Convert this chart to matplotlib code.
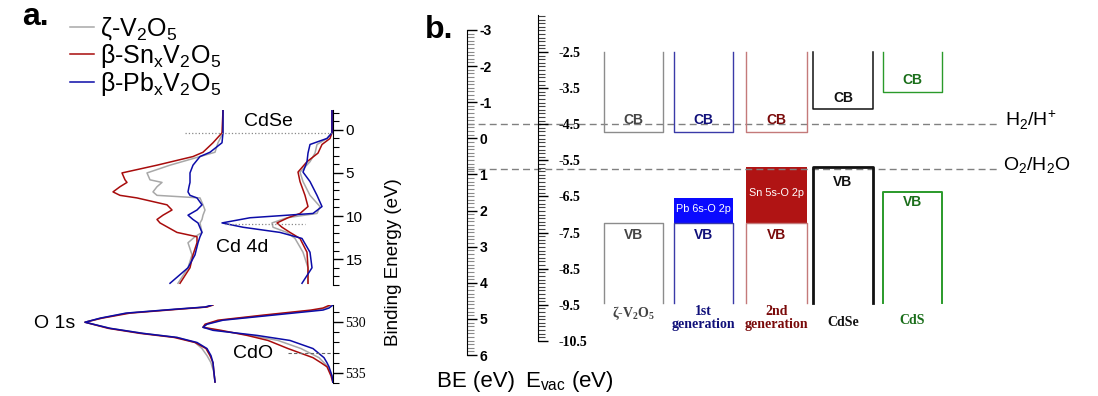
import matplotlib.pyplot as plt
import numpy as np
from matplotlib.ticker import MultipleLocator, FixedLocator

plt.rcParams['font.family'] = ['Liberation Sans', 'DejaVu Sans']
plt.rcParams['mathtext.fontset'] = 'custom'
plt.rcParams['mathtext.rm'] = 'Liberation Sans'
plt.rcParams['axes.unicode_minus'] = False

# %% data
names = ['ζ-V$_\\mathregular{2}$O$_\\mathregular{5}$',
         'β-Sn$_\\mathregular{x}$V$_\\mathregular{2}$O$_\\mathregular{5}$',
         'β-Pb$_\\mathregular{x}$V$_\\mathregular{2}$O$_\\mathregular{5}$']
colors = ['#a8a8a8', '#a80c0c', '#0c0ca8']

# valence band region, left stack (oxide) - binding energy (eV) / intensity (a.u.)
vb_e = [-2.3, 0.35, 1.5, 2.6, 3.1, 4.1, 5.0, 5.8, 6.1, 6.6, 7.2, 7.6, 7.9, 8.7,
        9.3, 9.9, 10.4, 10.8, 11.9, 12.4, 13.1, 14.5, 16.0, 17.8]
vb_grey = [2, 2, 7, 10, 25, 55, 78, 75, 63, 68, 72, 68, 25, 22, 20, 22, 23, 25,
           23, 30, 37, 33, 37, 47]
vb_red = [2, 3, 12, 22, 32, 68, 103, 100, 98, 105, 112, 105, 88, 58, 53, 62, 68,
          65, 48, 28, 28, 32, 35, 45]
vb_blue = [2, 2, 3, 15, 25, 32, 35, 35, 35, 36, 37, 35, 28, 23, 28, 37, 32, 27,
           23, 25, 27, 30, 37, 55]

# valence band region, right stack (CdSe)
cdse_e = [-2.3, 0.35, 1.0, 1.7, 2.7, 3.7, 4.9, 6.0, 7.6, 8.9, 9.7, 10.2, 10.8,
          11.3, 11.9, 12.6, 14.2, 16.0, 17.8]
cdse_grey = [1, 1, 6, 16, 18, 23, 33, 30, 23, 13, 16, 46, 61, 60, 46, 38, 30, 25, 25]
cdse_red = [1, 1, 3, 11, 15, 26, 35, 33, 28, 25, 33, 45, 56, 51, 43, 33, 26, 25, 25]
cdse_blue = [1, 1, 6, 23, 25, 26, 30, 23, 16, 11, 20, 83, 111, 90, 53, 31, 23, 21, 31]

# O 1s region
o1s_e = [528.3, 528.5, 528.7, 529.1, 529.6, 530.0, 530.6, 531.1, 531.5, 532.0,
         532.6, 533.3, 534.0, 535.0, 535.9]
o1s_grey = [3, 10, 38, 89, 115, 131, 106, 73, 39, 21, 14, 9, 5, 2, 1]
o1s_red = [3, 9, 35, 86, 114, 131, 108, 76, 42, 21, 10, 6, 3, 2, 1]
o1s_blue = [4, 11, 39, 90, 116, 131, 106, 73, 39, 19, 9, 5, 3, 2, 1]

cdo_e = [528.3, 528.6, 528.8, 529.3, 529.8, 530.2, 530.5, 530.8, 531.3, 531.8,
         532.6, 533.5, 534.0, 534.4, 535.3, 536.0]
cdo_grey = [2, 7, 16, 65, 112, 127, 130, 116, 82, 55, 32, 14, 9, 5, 1, 0]
cdo_red = [3, 10, 22, 70, 115, 128, 130, 112, 86, 65, 45, 20, 12, 6, 2, 0]
cdo_blue = [0, 4, 10, 60, 110, 126, 130, 120, 76, 43, 20, 9, 6, 4, 1, 0]

vbm_line = 0.35
cd4d_line = 10.9
cdo_line = 533.0

# band alignment (eV vs vacuum)
materials = ['ζ-V$_\\mathregular{2}$O$_\\mathregular{5}$', '1st\ngeneration',
             '2nd\ngeneration', 'CdSe', 'CdS']
cb_min = [-4.72, -4.72, -4.72, -4.08, -3.61]
vb_max = [-7.24, -7.24, -7.24, -5.69, -6.38]
midgap_top = [None, -6.54, -5.69, None, None]
midgap_text = [None, 'Pb 6s-O 2p', 'Sn 5s-O 2p', None, None]
h2_level = -4.5
o2_level = -5.73

# %% figure
W, H = 1098, 396
fig = plt.figure(figsize=(W / 100, H / 100), dpi=100)


def rect(x0, y0, x1, y1):
    # pixel box -> [left, bottom, width, height] in figure fraction
    return [x0 / W, 1 - y1 / H, (x1 - x0) / W, (y1 - y0) / H]


def ftext(x, y, s, **kw):
    kw.setdefault('ha', 'center')
    kw.setdefault('va', 'center')
    return fig.text(x / W, 1 - y / H, s, **kw)


def scale_axis(ax, major, minor, size, lab_font, minor_color='k', minor_len=4):
    for s in ['top', 'bottom', 'left']:
        ax.spines[s].set_visible(False)
    ax.patch.set_visible(False)
    ax.set_xticks([])
    ax.yaxis.set_ticks_position('right')
    ax.yaxis.set_label_position('right')
    ax.yaxis.set_major_locator(MultipleLocator(major))
    ax.yaxis.set_minor_locator(MultipleLocator(minor))
    ax.tick_params(axis='y', which='major', direction='out', length=7, width=1,
                   labelsize=size, pad=2, right=True, labelright=True)
    ax.tick_params(axis='y', which='minor', direction='out', length=minor_len,
                   width=0.8, color=minor_color, right=True)
    for t in ax.get_yticklabels():
        t.set_fontfamily(lab_font)


# ---- panel a, valence band
base_left, base_right = 225, 333
ax_vb = fig.add_axes(rect(0, 110, 333, 285))
ax_vb.set_xlim(0, 333)
ax_vb.set_ylim(18.0, -2.3)
scale_axis(ax_vb, 5, 1, 11, 'Liberation Sans')
lines = []
for I, c in zip([vb_grey, vb_red, vb_blue], colors):
    l, = ax_vb.plot(base_left - np.array(I), vb_e, color=c, lw=1.1)
    lines.append(l)
for I, c in zip([cdse_grey, cdse_red, cdse_blue], colors):
    ax_vb.plot(base_right - np.array(I), cdse_e, color=c, lw=1.1)
ax_vb.plot([185, 333], [vbm_line, vbm_line], ls=':', color='#888888', lw=0.9)
ax_vb.plot([225, 305], [cd4d_line, cd4d_line], ls=':', color='#888888', lw=0.9)

# ---- panel a, O 1s
base_o1s = 216
ax_o = fig.add_axes(rect(0, 305, 333, 383))
ax_o.set_xlim(0, 333)
ax_o.set_ylim(536.0, 528.3)
scale_axis(ax_o, 5, 1, 10, 'Liberation Serif')
for I, c in zip([o1s_grey, o1s_red, o1s_blue], colors):
    ax_o.plot(base_o1s - np.array(I), o1s_e, color=c, lw=1.1)
for I, c in zip([cdo_grey, cdo_red, cdo_blue], colors):
    ax_o.plot(base_right - np.array(I), cdo_e, color=c, lw=1.1)
ax_o.plot([288, 333], [cdo_line, cdo_line], ls=(0, (3, 2)), color='#666666', lw=0.8)

fig.legend(lines, names, loc='upper left', bbox_to_anchor=(60 / W, 1 - 5 / H),
           frameon=False, fontsize=18, handlelength=0.95, handletextpad=0.25,
           labelspacing=0.0, borderaxespad=0)
ftext(22, 17, 'a.', fontsize=23, fontweight='bold', ha='left')
ftext(268, 122, 'CdSe', fontsize=14)
ftext(242, 248, 'Cd 4d', fontsize=14)
ftext(55, 323, 'O 1s', fontsize=14)
ftext(253, 353, 'CdO', fontsize=14)
ftext(393, 262, 'Binding Energy (eV)', fontsize=13.5, rotation=90)

# ---- panel b
ax_b = fig.add_axes(rect(440, 0, 1098, 396))
ax_b.set_xlim(440, 1098)
ax_b.set_ylim(-12.03, -1.06)
ax_b.axis('off')

ax_be = fig.add_axes(rect(455, 27, 467, 358))
ax_be.set_ylim(6.083, -3.083)
scale_axis(ax_be, 1, 0.1, 10, 'Liberation Sans', minor_color='#8a8a8a', minor_len=5)
ax_be.spines['right'].set_bounds(6.0, -3.0)
for t in ax_be.get_yticklabels():
    t.set_fontweight('bold')

ax_ev = fig.add_axes(rect(526, 15, 538, 342))
ax_ev.set_ylim(-10.53, -1.475)
scale_axis(ax_ev, 1, 0.1, 10, 'Liberation Serif', minor_color='#444444', minor_len=5)
ax_ev.yaxis.set_major_locator(FixedLocator(np.arange(-10.5, -2.0, 1.0)))
ax_ev.yaxis.set_minor_locator(FixedLocator(np.arange(-10.5, -1.45, 0.1)))
ax_ev.spines['right'].set_bounds(-10.5, -1.475)
for t in ax_ev.get_yticklabels():
    t.set_fontweight('bold')
ax_ev.tick_params(axis='y', which='major', pad=8)

dash = (0, (5, 3))
for lev in [h2_level, o2_level]:
    ax_b.plot([467, 997], [lev, lev], ls=dash, color='#808080', lw=1)
ftext(1005, 120, 'H$_\\mathregular{2}$/H$^\\mathregular{+}$', fontsize=14, ha='left')
ftext(1003, 166, 'O$_\\mathregular{2}$/H$_\\mathregular{2}$O', fontsize=14, ha='left')

box_x = [(604, 663), (674, 733), (746, 807), (813, 873), (883, 942)]
edge_c = ['#8c8c8c', '#3a3aa8', '#c47a7a', '#111111', '#2a9a2a']
text_c = ['#444444', '#10107a', '#7a0a0a', '#111111', '#1a6e1a']
fill_c = [None, '#0a0aff', '#b01414', None, None]
vb_lw = [1, 1, 1, 2, 1.4]
cb_lw = [1, 1, 1, 1.1, 1]
cb_top, vb_bot = -2.5, -9.45
cb_lab_dy = [0.34, 0.34, 0.34, 0.31, 0.33]
vb_lab_dy = [0.33, 0.33, 0.33, 0.41, 0.27]
bottom_lab_y = [313, 318, 318, 323, 320]

for i, (x0, x1) in enumerate(box_x):
    xc = (x0 + x1) / 2
    if fill_c[i]:
        ax_b.bar(xc, midgap_top[i] - vb_max[i], width=x1 - x0, bottom=vb_max[i],
                 color=fill_c[i], zorder=1)
        ax_b.text(xc, (midgap_top[i] + vb_max[i]) / 2 + 0.05, midgap_text[i],
                  color='white', fontsize=7.8, ha='center', va='center')
    ax_b.plot([x0, x0, x1, x1], [cb_top, cb_min[i], cb_min[i], cb_top],
              color=edge_c[i], lw=cb_lw[i], zorder=2)
    ax_b.plot([x0, x0, x1, x1], [vb_bot, vb_max[i], vb_max[i], vb_bot],
              color=edge_c[i], lw=vb_lw[i], zorder=2)
    ax_b.text(xc, cb_min[i] + cb_lab_dy[i], 'CB', color=text_c[i], fontsize=10,
              ha='center', va='center', fontweight='bold')
    ax_b.text(xc, vb_max[i] - vb_lab_dy[i], 'VB', color=text_c[i], fontsize=10,
              ha='center', va='center', fontweight='bold')
    ftext(xc, bottom_lab_y[i], materials[i], color=text_c[i], fontsize=10,
          fontfamily='Liberation Serif', fontweight='bold', linespacing=0.95)

ftext(425, 30, 'b.', fontsize=23, fontweight='bold', ha='left')
ftext(476, 381, 'BE (eV)', fontsize=16)
ftext(569, 381, 'E$_\\mathregular{vac}$ (eV)', fontsize=16)

plt.savefig('out.png', dpi=100)
